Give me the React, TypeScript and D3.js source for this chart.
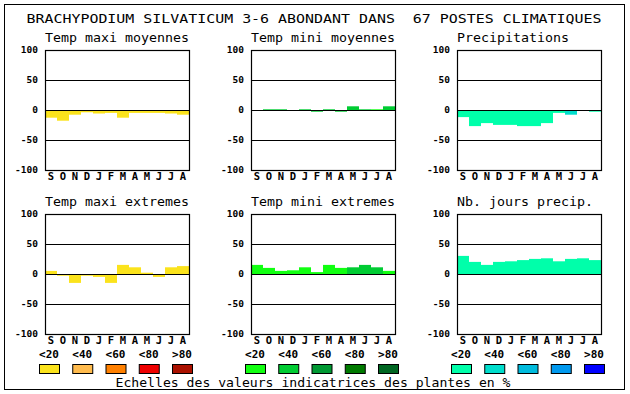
import React from "react";
import * as d3 from "d3";

// monthly values, September -> August
const months = ["S", "O", "N", "D", "J", "F", "M", "A", "M", "J", "J", "A"];
const ticks = [100, 50, 0, -50, -100];
const classLabels = ["<20", "<40", "<60", "<80", ">80"];

const tempMaxiMoy = [-12, -17, -7, -3, -5, -4, -12, -4, -4, -4, -5, -7];
const tempMiniMoy = [0, 2, 2, 0, 2, -2, 2, -2, 7, 2, 2, 7];
const precip = [-11, -26, -21, -24, -24, -26, -26, -21, -4, -7, 0, -2];
const tempMaxiExt = [6, -2, -14, -2, -4, -14, 16, 12, 3, -4, 12, 14];
const tempMiniExt = [16, 11, 6, 7, 12, 4, 16, 11, 12, 16, 12, 6];
const joursPrecip = [31, 21, 16, 21, 22, 24, 26, 27, 22, 26, 27, 24];

// indicator class of each bar (0 = <20 ... 4 = >80)
const clsMaxiMoy = [0, 0, 0, 0, 0, 0, 0, 0, 0, 0, 0, 0];
const clsMiniMoy = [1, 1, 1, 1, 1, 1, 1, 1, 1, 1, 0, 1];
const clsPrecip = [0, 0, 0, 0, 0, 0, 0, 0, 0, 1, 0, 0];
const clsMaxiExt = [0, 0, 0, 0, 0, 0, 0, 0, 0, 0, 0, 0];
const clsMiniExt = [0, 0, 0, 0, 0, 0, 0, 0, 1, 1, 1, 0];
const clsJours = [0, 0, 0, 0, 0, 0, 0, 0, 0, 0, 0, 0];

const yellows = ["#fbe31c", "#ffbb4d", "#ff8000", "#ee0000", "#aa1100"];
const greens = ["#11ff11", "#00cc33", "#009933", "#007a00", "#006622"];
const blues = ["#00ffaa", "#00ddcc", "#00bbdd", "#0099ee", "#0000ff"];

const panels = [
  { title: "Temp maxi moyennes", values: tempMaxiMoy, cls: clsMaxiMoy, colors: yellows, col: 0, row: 0 },
  { title: "Temp mini moyennes", values: tempMiniMoy, cls: clsMiniMoy, colors: greens, col: 1, row: 0 },
  { title: "Precipitations", values: precip, cls: clsPrecip, colors: blues, col: 2, row: 0 },
  { title: "Temp maxi extremes", values: tempMaxiExt, cls: clsMaxiExt, colors: yellows, col: 0, row: 1 },
  { title: "Temp mini extremes", values: tempMiniExt, cls: clsMiniExt, colors: greens, col: 1, row: 1 },
  { title: "Nb. jours precip.", values: joursPrecip, cls: clsJours, colors: blues, col: 2, row: 1 },
];
const legendGroups = [yellows, greens, blues];

const W = 630;
const H = 394;
const plotW = 144;
const plotH = 120;
const lefts = [45, 251, 457];
const tops = [50, 214];
const mono = "'DejaVu Sans Mono', 'Liberation Mono', monospace";

function Panel({ p }: { p: any }) {
  const x0 = lefts[p.col];
  const y0 = tops[p.row];
  const x = d3.scaleBand<number>().domain(d3.range(12)).range([x0, x0 + plotW]).padding(0);
  const y = d3.scaleLinear().domain([-100, 100]).range([y0 + plotH, y0]);
  return (
    <g>
      <text x={x0} y={y0 - 8} fontFamily={mono} fontSize={13} textLength={p.title.length * 8} lengthAdjust="spacingAndGlyphs">
        {p.title}
      </text>
      {p.values.map((v: number, i: number) => (
        <rect
          key={i}
          x={x(i)}
          y={y(Math.max(v, 0)) + 0.5}
          width={x.bandwidth()}
          height={Math.abs(y(v) - y(0))}
          fill={p.colors[p.cls[i]]}
        />
      ))}
      {[50, 0, -50].map((t) => (
        <line key={t} x1={x0} x2={x0 + plotW} y1={Math.round(y(t)) + 0.5} y2={Math.round(y(t)) + 0.5} stroke="#000" strokeWidth={1.2} />
      ))}
      <rect x={x0 + 0.5} y={y0 + 0.5} width={plotW} height={plotH} fill="none" stroke="#000" strokeWidth={1.2} />
      {ticks.map((t) => (
        <text key={t} x={x0 - 7} y={y(t)} dy="0.36em" textAnchor="end" fontFamily={mono} fontWeight="bold" fontSize={9.5}>
          {t}
        </text>
      ))}
      {months.map((m, i) => (
        <text key={i} x={(x(i) as number) + x.bandwidth() / 2} y={y0 + plotH + 10} textAnchor="middle" fontFamily={mono} fontWeight="bold" fontSize={10.5}>
          {m}
        </text>
      ))}
    </g>
  );
}

export default function App() {
  const lx = d3.scaleLinear().domain([0, 4]).range([-6, 127]);
  return (
    <svg width={W} height={H} style={{ position: "absolute", left: 0, top: 0, background: "#fff" }}>
      <rect x={0} y={0} width={W} height={H} fill="#fff" />
      <rect x={4.5} y={4.5} width={620} height={385} fill="none" stroke="#000" strokeWidth={1} />
      <text x={W / 2 - 1} y={23} textAnchor="middle" fontFamily={mono} fontSize={13} textLength={575} lengthAdjust="spacingAndGlyphs" style={{ whiteSpace: "pre" }}>
        {"BRACHYPODIUM SILVATICUM 3-6 ABONDANT DANS  67 POSTES CLIMATIQUES"}
      </text>
      {panels.map((p, i) => (
        <Panel key={i} p={p} />
      ))}
      {legendGroups.map((cols, g) => (
        <g key={g}>
          {cols.map((c, i) => (
            <g key={i}>
              <text x={lefts[g] + lx(i) + 10} y={358} textAnchor="middle" fontFamily={mono} fontWeight="bold" fontSize={11}>
                {classLabels[i]}
              </text>
              <rect x={lefts[g] + lx(i) + 0.5} y={364.5} width={20} height={9} fill={c} stroke="#000" strokeWidth={1} />
            </g>
          ))}
        </g>
      ))}
      <text x={313} y={387} textAnchor="middle" fontFamily={mono} fontSize={13} textLength={395} lengthAdjust="spacingAndGlyphs">
        Echelles des valeurs indicatrices des plantes en %
      </text>
    </svg>
  );
}
